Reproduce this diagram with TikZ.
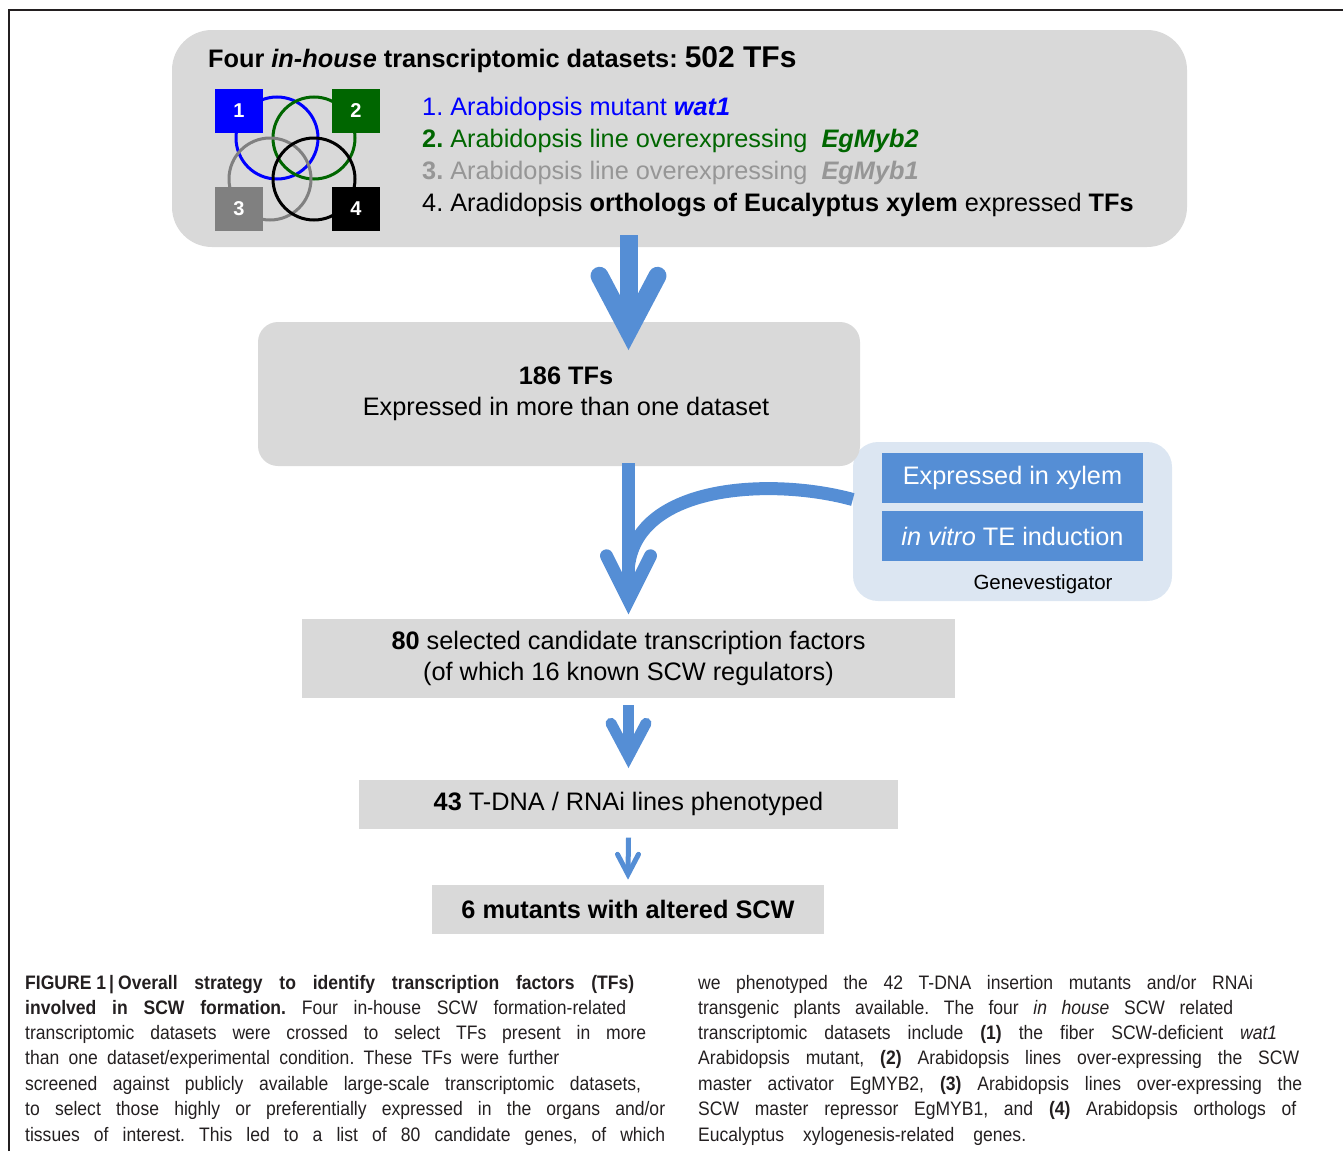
\documentclass[tikz,border=0pt]{standalone}
\usepackage{fontspec}
\setmainfont{Liberation Sans}
\newfontfamily\capfont[FakeStretch=0.9]{Liberation Sans}
\usetikzlibrary{positioning, calc}
\definecolor{boxgray}{HTML}{D9D9D9}
\definecolor{flowblue}{HTML}{558ED5}
\definecolor{gvpale}{HTML}{DCE6F2}
\definecolor{setblue}{HTML}{0000FF}
\definecolor{setgreen}{HTML}{006600}
\definecolor{setgray}{HTML}{808080}
\definecolor{txtgray}{HTML}{969696}
\definecolor{capink}{HTML}{231F20}
\frenchspacing

\begin{document}
\begin{tikzpicture}[x=1pt, y=-1pt,
    stage/.style={rounded corners=#1, fill=boxgray, inner sep=0pt, align=center,
        font=\fontsize{25.3}{31}\selectfont},
    plain/.style={fill=boxgray, inner sep=0pt, align=center, font=\fontsize{25.3}{31}\selectfont},
    txt/.style={inner sep=0pt, font=\fontsize{25.3}{31}\selectfont},
    setbox/.style={minimum width=48pt, minimum height=44pt, inner sep=0pt, text=white,
        font=\fontsize{20}{24}\selectfont\bfseries},
    setring/.style={line width=3pt},
    gv/.style={fill=flowblue, text=white, minimum width=261pt, minimum height=50pt,
        inner sep=0pt, font=\fontsize{25.3}{31}\selectfont},
    shaft/.style={draw=flowblue, line width=#1},
    barb/.style={draw=flowblue, line width=#1, line cap=round, line join=miter},
    capline/.style={anchor=base west, inner sep=0pt, text=capink,
        font=\capfont\fontsize{19.5}{25}\selectfont},
]
\useasboundingbox (0,0) rectangle (1343,1151);

% ===== Frame =====
\draw[line width=2pt, capink] (9,1151) -- (9,10) -- (1343,10);

% ===== Datasets =====
\node[stage=40pt, minimum width=1015pt, minimum height=217pt] (pool) at (679.5,138.5) {};
\node[txt, anchor=base west] (title) at (208,67)
  {\textbf{Four \textit{in-house} transcriptomic datasets: }{\fontsize{30}{34}\selectfont\textbf{502 TFs}}};

\draw[setring, setblue] (277,138) circle[radius=41pt];
\draw[setring, setgreen] (314,138) circle[radius=41pt];
\draw[setring, setgray] (270,179) circle[radius=41pt];
\draw[setring, black] (314,179) circle[radius=41pt];

\node[setbox, fill=setblue] (s1) at (239,111) {1};
\node[setbox, fill=setgreen] (s2) at (356,111) {2};
\node[setbox, fill=setgray] (s3) at (239,208.5) {3};
\node[setbox, fill=black] (s4) at (356,208.5) {4};

\node[txt, anchor=base west, text=setblue] (d1) at (422,115)
  {1. Arabidopsis mutant \textbf{\textit{wat1}}};
\node[txt, anchor=base west, text=setgreen] (d2) at (422,147)
  {\textbf{2.} Arabidopsis line overexpressing\ \ \textbf{\textit{EgMyb2}}};
\node[txt, anchor=base west, text=txtgray] (d3) at (422,179)
  {\textbf{3.} Arabidopsis line overexpressing\ \ \textbf{\textit{EgMyb1}}};
\node[txt, anchor=base west] (d4) at (422,211)
  {4. Aradidopsis \textbf{orthologs of Eucalyptus xylem} expressed \textbf{TFs}};

% ===== Genevestigator filter =====
\node[stage=25pt, fill=gvpale, minimum width=319pt, minimum height=159pt] (gvpanel) at (1012.5,521.5) {};
\node[gv] (xylem) at (1012.5,478) {Expressed in xylem};
\node[gv] (tei) at (1012.5,536) {\textit{in vitro} TE induction};
\node[txt, font=\fontsize{20.5}{24}\selectfont] (gvname) at (1043,584) {Genevestigator};

% ===== Selection steps =====
\node[stage=20pt, minimum width=602pt, minimum height=144pt] (shared) at (559,394)
  {\hspace*{14pt}\textbf{186 TFs}\\\hspace*{14pt}Expressed in more than one dataset};
\node[plain, minimum width=653pt, minimum height=79pt] (cand) at (628.5,658.5)
  {\textbf{80} selected candidate transcription factors\\(of which 16 known SCW regulators)};
\node[plain, minimum width=539pt, minimum height=49pt] (lines) at (628.5,804)
  {\textbf{43} T-DNA / RNAi lines phenotyped};
\node[plain, minimum width=392pt, minimum height=49pt] (mut) at (628,909)
  {\textbf{6 mutants with altered SCW}};

% ===== Arrows =====
\coordinate (v1) at ([yshift=-9]shared.north -| cand.north);
\draw[shaft=18] ([yshift=12]pool.south -| cand.north) -- (v1);
\draw[barb=18] ($(v1)+(-29,-55)$) -- (v1) -- ($(v1)+(29,-55)$);

\coordinate (v2) at ([yshift=19]cand.north);
\coordinate (merge) at ([yshift=34]v2);
\draw[shaft=13] ([yshift=3]shared.south -| cand.north) -- (v2);
\draw[shaft=13] ([yshift=22]gvpanel.west) .. controls +(-80,-22) and +(10,-82) .. (merge);
\draw[barb=13] ($(v2)+(-22,-44)$) -- (v2) -- ($(v2)+(22,-44)$);

\coordinate (v3) at ([yshift=23]lines.north);
\draw[shaft=11] ([yshift=-7]cand.south) -- (v3);
\draw[barb=11] ($(v3)+(-17.5,-33)$) -- (v3) -- ($(v3)+(17.5,-33)$);

\coordinate (v4) at ([yshift=10]mut.north);
\draw[shaft=5] ([yshift=-9]lines.south) -- (v4);
\draw[barb=5] ($(v4)+(-10.5,-20)$) -- (v4) -- ($(v4)+(10.5,-20)$);

% ===== Caption =====
\node[capline] (c1) at (25,989) {\makebox[609pt][s]{\bfseries FIGURE\hspace{5pt}1\hspace{3pt}|\hspace{4pt}Overall strategy to identify transcription factors (TFs)}};
\node[capline] (c2) at (25,1014) {\makebox[601pt][s]{\textbf{involved in SCW formation.} Four in-house SCW formation-related}};
\node[capline] (c3) at (25,1039) {\makebox[621pt][s]{transcriptomic datasets were crossed to select TFs present in more}};
\node[capline] (c4) at (25,1064) {\makebox[534pt][s]{than one dataset/experimental condition. These TFs were further}};
\node[capline] (c5) at (25,1090) {\makebox[616pt][s]{screened against publicly available large-scale transcriptomic datasets,}};
\node[capline] (c6) at (25,1115) {\makebox[640pt][s]{to select those highly or preferentially expressed in the organs and/or}};
\node[capline] (c7) at (25,1141) {\makebox[640pt][s]{tissues of interest. This led to a list of 80 candidate genes, of which}};

\node[capline] (r1) at (698,989) {\makebox[555pt][s]{we phenotyped the 42 T-DNA insertion mutants and/or RNAi}};
\node[capline] (r2) at (698,1014) {\makebox[535pt][s]{transgenic plants available. The four \textit{in house} SCW related}};
\node[capline] (r3) at (698,1039) {\makebox[579pt][s]{transcriptomic datasets include \textbf{(1)} the fiber SCW-deficient \textit{wat1}}};
\node[capline] (r4) at (698,1064) {\makebox[601pt][s]{Arabidopsis mutant, \textbf{(2)} Arabidopsis lines over-expressing the SCW}};
\node[capline] (r5) at (698,1090) {\makebox[604pt][s]{master activator EgMYB2, \textbf{(3)} Arabidopsis lines over-expressing the}};
\node[capline] (r6) at (698,1115) {\makebox[598pt][s]{SCW master repressor EgMYB1, and \textbf{(4)} Arabidopsis orthologs of}};
\node[capline] (r7) at (698,1141) {\makebox[328pt][s]{Eucalyptus xylogenesis-related genes.}};

\end{tikzpicture}
\end{document}
